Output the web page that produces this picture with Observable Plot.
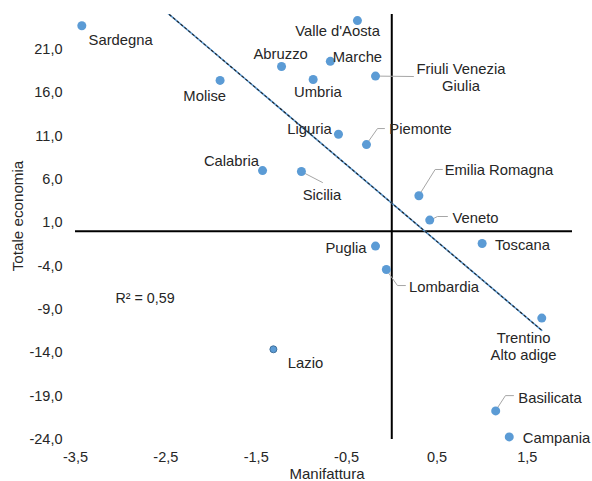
<!DOCTYPE html>
<html>
<head>
<meta charset="utf-8">
<script src="https://cdn.jsdelivr.net/npm/d3@7"></script>
<script src="https://cdn.jsdelivr.net/npm/@observablehq/plot@0.6"></script>
<style>
  html, body { margin: 0; padding: 0; background: #fff; }
</style>
</head>
<body>
<div id="chart"></div>
<script>
// Series 1 (used for the trendline)
const regioni = ["Sardegna","Molise","Abruzzo","Calabria","Sicilia","Valle d'Aosta","Marche","Umbria","Friuli Venezia\nGiulia","Liguria","Piemonte","Emilia Romagna","Veneto","Toscana","Puglia","Lombardia","Trentino\nAlto adige","Basilicata","Campania"];
const manifattura = [-3.43,-1.90,-1.22,-1.43,-1.00,-0.38,-0.68,-0.87,-0.18,-0.59,-0.28,0.30,0.42,1.00,-0.18,-0.06,1.66,1.15,1.30];
const totale = [23.7,17.4,19.0,7.0,6.9,24.3,19.6,17.5,17.9,11.2,10.0,4.1,1.3,-1.4,-1.7,-4.4,-10.0,-20.7,-23.7];
// Series 2
const regioni2 = ["Lazio"];
const manifattura2 = [-1.31];
const totale2 = [-13.6];

// Label anchors (data units)
const labelX = [-3.00,-2.07,-1.23,-1.774,-0.772,-0.60,-0.38,-0.817,0.766,-0.911,0.318,1.186,0.926,1.446,-0.507,0.578,1.458,1.751,1.823];
const labelY = [22.1,15.66,20.5,8.16,4.24,23.15,20.15,16.12,17.79,11.85,11.85,7.13,1.59,-1.52,-1.87,-6.36,-13.28,-19.16,-23.77];
const labelX2 = [-0.955];
const labelY2 = [-15.25];

// Leader lines (data units)
const leaderId = ["Friuli","Friuli","Piemonte","Piemonte","Piemonte","Sicilia","Sicilia","Emilia","Emilia","Emilia","Veneto","Veneto","Veneto","Lombardia","Lombardia","Lombardia","Basilicata","Basilicata","Basilicata"];
const leaderX = [-0.18,0.24,-0.28,-0.158,-0.081,-1.0,-0.767,0.30,0.48,0.56,0.42,0.505,0.616,-0.06,0.063,0.151,1.15,1.258,1.347];
const leaderY = [17.9,17.85,10.04,11.85,11.85,6.89,5.63,4.13,7.13,7.13,1.25,1.71,1.71,-4.44,-6.25,-6.25,-20.66,-18.94,-18.94];

const xTicks = [-3.5,-2.5,-1.5,-0.5,0.5,1.5];
const yTicks = [-24,-19,-14,-9,-4,1,6,11,16,21];
const r2Text = ["R² = 0,59"];
const r2X = [-3.058], r2Y = [-7.75];

const s1 = regioni.map((r,i) => ({r, x: manifattura[i], y: totale[i], lx: labelX[i], ly: labelY[i]}));
const s2 = regioni2.map((r,i) => ({r, x: manifattura2[i], y: totale2[i], lx: labelX2[i], ly: labelY2[i]}));
const leaders = leaderId.map((id,i) => ({id, x: leaderX[i], y: leaderY[i]}));
const fmt = v => v.toFixed(1).replace(".", ",");
const FONT = "'Liberation Sans', Arial, sans-serif";
const TXT = "#262626";

const chart = Plot.plot({
  width: 592,
  height: 481,
  marginLeft: 75,
  marginRight: 20,
  marginTop: 14,
  marginBottom: 42,
  style: {fontFamily: FONT, fontSize: "14px", color: TXT, background: "#fff"},
  x: {domain: [-3.5, 2], axis: null},
  y: {domain: [-24, 25], axis: null},
  marks: [
    Plot.text(xTicks, {x: d => d, frameAnchor: "bottom", dy: 18, lineAnchor: "middle", textAnchor: "middle", text: fmt, fill: TXT, fontSize: 14.5}),
    Plot.text(yTicks, {y: d => d, frameAnchor: "left", dx: -13, textAnchor: "end", lineAnchor: "middle", text: fmt, fill: TXT, fontSize: 14.5}),
    Plot.ruleX([0], {stroke: "black", strokeWidth: 2}),
    Plot.ruleY([0], {stroke: "black", strokeWidth: 2}),
    Plot.line(leaders, {x: "x", y: "y", z: "id", stroke: "#a6a6a6", strokeWidth: 1}),
    Plot.linearRegressionY(s1, {x: "x", y: "y", ci: 0, stroke: "#5b9bd5", strokeWidth: 1.6, clip: true}),
    Plot.linearRegressionY(s1, {x: "x", y: "y", ci: 0, stroke: "#222", strokeWidth: 1.1, strokeDasharray: "2,3", clip: true}),
    Plot.dot(s1, {x: "x", y: "y", r: 4.5, fill: "#5b9bd5", stroke: "none"}),
    Plot.dot(s2, {x: "x", y: "y", r: 3.5, fill: "#5b9bd5", stroke: "#41719c", strokeWidth: 1}),
    Plot.text(s1, {x: "lx", y: "ly", text: "r", fill: TXT, fontSize: 14.8, lineHeight: 1.14}),
    Plot.text(s2, {x: "lx", y: "ly", text: "r", fill: TXT, fontSize: 14.8}),
    Plot.text(r2Text, {x: r2X, y: r2Y, text: d => d, textAnchor: "start", fill: TXT, fontSize: 14.3}),
    Plot.text(["Manifattura"], {frameAnchor: "bottom", dy: 35, dx: 3, lineAnchor: "middle", textAnchor: "middle", text: d => d, fill: TXT, fontSize: 15}),
    Plot.text(["Totale economia"], {frameAnchor: "left", dx: -57, dy: -11, rotate: -90, lineAnchor: "middle", textAnchor: "middle", text: d => d, fill: TXT, fontSize: 15.2})
  ]
});
document.getElementById("chart").appendChild(chart);
</script>
</body>
</html>
